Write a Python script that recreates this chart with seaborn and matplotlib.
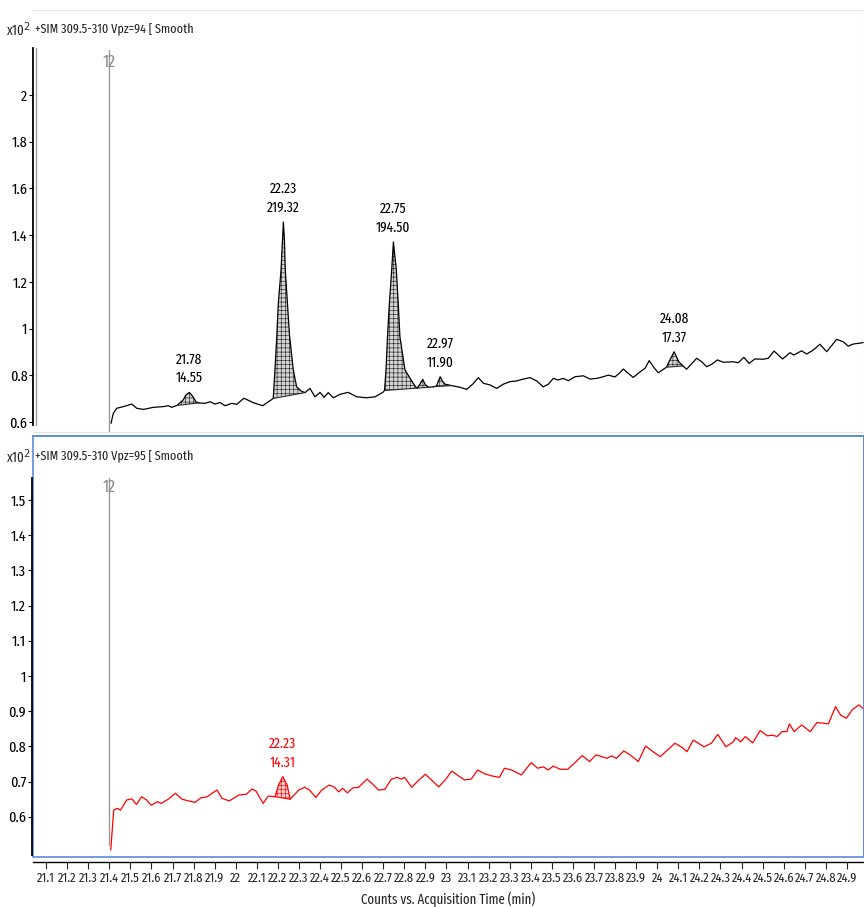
import numpy as np
import pandas as pd
import matplotlib
matplotlib.use("Agg")
import matplotlib.pyplot as plt
import seaborn as sns
from matplotlib import font_manager as fm
from matplotlib.patches import Rectangle

# ---------------- data ----------------
top_time = [21.408, 21.419, 21.435, 21.467, 21.507, 21.530, 21.562, 21.609, 21.656, 21.680,
            21.696, 21.721, 21.750, 21.764, 21.780, 21.795, 21.812, 21.826, 21.854, 21.878,
            21.902, 21.925, 21.949, 21.981, 22.005, 22.039, 22.083, 22.128, 22.155, 22.178,
            22.186, 22.195, 22.202, 22.215, 22.222, 22.226, 22.231, 22.235, 22.245, 22.255,
            22.273, 22.289, 22.310, 22.329, 22.352, 22.376, 22.400, 22.419, 22.439, 22.463,
            22.495, 22.534, 22.574, 22.621, 22.661, 22.698, 22.706, 22.713, 22.720, 22.729,
            22.740, 22.748, 22.762, 22.771, 22.779, 22.803, 22.842, 22.859, 22.872, 22.887,
            22.900, 22.916, 22.936, 22.952, 22.970, 22.980, 22.993, 23.025, 23.063, 23.096,
            23.124, 23.151, 23.175, 23.206, 23.238, 23.269, 23.301, 23.333, 23.364, 23.396,
            23.428, 23.459, 23.483, 23.507, 23.530, 23.554, 23.578, 23.610, 23.649, 23.681,
            23.713, 23.744, 23.768, 23.799, 23.820, 23.839, 23.862, 23.886, 23.926, 23.942,
            23.962, 23.981, 24.005, 24.044, 24.055, 24.080, 24.103, 24.123, 24.139, 24.187,
            24.211, 24.234, 24.258, 24.285, 24.313, 24.361, 24.384, 24.411, 24.436, 24.463,
            24.503, 24.527, 24.554, 24.595, 24.630, 24.648, 24.685, 24.709, 24.740, 24.772,
            24.804, 24.851, 24.882, 24.906, 24.930, 24.977]
top_signal = [0.594, 0.637, 0.659, 0.666, 0.677, 0.659, 0.654, 0.663, 0.666, 0.670,
              0.663, 0.671, 0.694, 0.716, 0.727, 0.711, 0.686, 0.682, 0.680, 0.687,
              0.677, 0.684, 0.670, 0.680, 0.676, 0.702, 0.683, 0.670, 0.687, 0.701,
              0.823, 0.973, 1.110, 1.251, 1.379, 1.456, 1.379, 1.251, 1.110, 0.973,
              0.823, 0.751, 0.733, 0.726, 0.744, 0.708, 0.727, 0.706, 0.726, 0.704,
              0.719, 0.727, 0.708, 0.704, 0.708, 0.727, 0.735, 0.823, 0.965, 1.108,
              1.251, 1.371, 1.251, 1.108, 0.965, 0.823, 0.766, 0.744, 0.759, 0.783,
              0.759, 0.749, 0.751, 0.754, 0.794, 0.776, 0.762, 0.756, 0.749, 0.740,
              0.762, 0.790, 0.766, 0.759, 0.744, 0.762, 0.773, 0.776, 0.784, 0.790,
              0.776, 0.751, 0.762, 0.787, 0.780, 0.787, 0.777, 0.794, 0.798, 0.784,
              0.787, 0.794, 0.801, 0.793, 0.809, 0.827, 0.809, 0.791, 0.820, 0.830,
              0.863, 0.837, 0.811, 0.835, 0.857, 0.901, 0.857, 0.840, 0.826, 0.873,
              0.858, 0.837, 0.847, 0.866, 0.856, 0.858, 0.854, 0.877, 0.851, 0.870,
              0.869, 0.873, 0.904, 0.870, 0.897, 0.887, 0.905, 0.891, 0.908, 0.933,
              0.901, 0.954, 0.944, 0.925, 0.934, 0.940]

bot_time = [21.407, 21.421, 21.437, 21.453, 21.483, 21.507, 21.529, 21.553, 21.576, 21.599,
            21.629, 21.645, 21.680, 21.714, 21.745, 21.777, 21.807, 21.835, 21.865, 21.883,
            21.911, 21.934, 21.969, 22.015, 22.050, 22.077, 22.096, 22.130, 22.154, 22.186,
            22.203, 22.223, 22.244, 22.258, 22.299, 22.327, 22.350, 22.380, 22.408, 22.443,
            22.466, 22.489, 22.507, 22.530, 22.558, 22.581, 22.623, 22.646, 22.678, 22.708,
            22.738, 22.766, 22.785, 22.801, 22.835, 22.870, 22.900, 22.928, 22.963, 22.997,
            23.025, 23.055, 23.085, 23.117, 23.148, 23.182, 23.217, 23.251, 23.275, 23.309,
            23.355, 23.402, 23.432, 23.460, 23.482, 23.506, 23.540, 23.575, 23.610, 23.644,
            23.679, 23.709, 23.737, 23.760, 23.783, 23.806, 23.841, 23.871, 23.910, 23.945,
            23.980, 24.014, 24.049, 24.084, 24.118, 24.141, 24.171, 24.195, 24.222, 24.257,
            24.287, 24.326, 24.361, 24.372, 24.396, 24.418, 24.453, 24.488, 24.523, 24.546,
            24.569, 24.592, 24.615, 24.627, 24.650, 24.685, 24.726, 24.758, 24.789, 24.812,
            24.846, 24.870, 24.897, 24.927, 24.957, 24.981]
bot_signal = [0.506, 0.619, 0.624, 0.619, 0.648, 0.651, 0.635, 0.657, 0.648, 0.633,
              0.643, 0.638, 0.650, 0.667, 0.650, 0.645, 0.641, 0.654, 0.657, 0.665,
              0.676, 0.653, 0.645, 0.662, 0.664, 0.679, 0.673, 0.638, 0.659, 0.657,
              0.690, 0.714, 0.690, 0.650, 0.676, 0.684, 0.676, 0.655, 0.676, 0.690,
              0.685, 0.671, 0.681, 0.668, 0.683, 0.683, 0.707, 0.695, 0.676, 0.678,
              0.707, 0.712, 0.707, 0.712, 0.684, 0.705, 0.721, 0.705, 0.685, 0.707,
              0.730, 0.717, 0.705, 0.707, 0.733, 0.722, 0.716, 0.712, 0.738, 0.733,
              0.719, 0.754, 0.738, 0.742, 0.733, 0.744, 0.735, 0.735, 0.754, 0.774,
              0.757, 0.776, 0.771, 0.766, 0.773, 0.766, 0.787, 0.776, 0.757, 0.801,
              0.785, 0.771, 0.790, 0.809, 0.797, 0.785, 0.818, 0.809, 0.799, 0.809,
              0.834, 0.799, 0.813, 0.825, 0.813, 0.828, 0.810, 0.845, 0.830, 0.832,
              0.828, 0.842, 0.842, 0.864, 0.842, 0.861, 0.842, 0.868, 0.866, 0.864,
              0.913, 0.889, 0.880, 0.905, 0.918, 0.905]

# integrated peaks: label time, area, integration start/end
top_peak_times = [21.78, 22.23, 22.75, 22.97, 24.08]
top_peak_apex = [21.780, 22.226, 22.748, 22.970, 24.080]
top_peak_areas = [14.55, 219.32, 194.50, 11.90, 17.37]
top_peak_start = [21.721, 22.178, 22.706, 22.936, 24.044]
top_peak_end = [21.826, 22.329, 22.916, 23.025, 24.123]

bot_peak_times = [22.23]
bot_peak_apex = [22.223]
bot_peak_areas = [14.31]
bot_peak_start = [22.186]
bot_peak_end = [22.258]

x_ticks = [21.1, 21.2, 21.3, 21.4, 21.5, 21.6, 21.7, 21.8, 21.9, 22.0, 22.1, 22.2, 22.3,
           22.4, 22.5, 22.6, 22.7, 22.8, 22.9, 23.0, 23.1, 23.2, 23.3, 23.4, 23.5, 23.6,
           23.7, 23.8, 23.9, 24.0, 24.1, 24.2, 24.3, 24.4, 24.5, 24.6, 24.7, 24.8, 24.9]
x_tick_labels = ["21.1", "21.2", "21.3", "21.4", "21.5", "21.6", "21.7", "21.8", "21.9", "22",
                 "22.1", "22.2", "22.3", "22.4", "22.5", "22.6", "22.7", "22.8", "22.9", "23",
                 "23.1", "23.2", "23.3", "23.4", "23.5", "23.6", "23.7", "23.8", "23.9", "24",
                 "24.1", "24.2", "24.3", "24.4", "24.5", "24.6", "24.7", "24.8", "24.9"]
top_y_ticks = [0.6, 0.8, 1.0, 1.2, 1.4, 1.6, 1.8, 2.0]
top_y_labels = ["0.6", "0.8", "1", "1.2", "1.4", "1.6", "1.8", "2"]
bot_y_ticks = [0.6, 0.7, 0.8, 0.9, 1.0, 1.1, 1.2, 1.3, 1.4, 1.5]
bot_y_labels = ["0.6", "0.7", "0.8", "0.9", "1", "1.1", "1.2", "1.3", "1.4", "1.5"]

marker_time = 21.4
top_title = "+SIM 309.5-310 Vpz=94 [ Smooth"
bot_title = "+SIM 309.5-310 Vpz=95 [ Smooth"
x_label = "Counts vs. Acquisition Time (min)"

# ---------------- style ----------------
sns.set_style("white")
installed = {f.name for f in fm.fontManager.ttflist}
narrow = "DejaVu Sans"
for cand in ["Arial Narrow", "Liberation Sans Narrow", "Fira Sans Extra Condensed",
             "Sofia Sans Extra Condensed", "Encode Sans Compressed", "Saira Extra Condensed",
             "Barlow Condensed", "Roboto Condensed", "Archivo Narrow"]:
    if cand in installed:
        narrow = cand
        break
plt.rcParams["font.family"] = [narrow, "DejaVu Sans"]
plt.rcParams["hatch.linewidth"] = 0.45

BLUE = "#5b8ed6"
FS = 10

fig = plt.figure(figsize=(8.64, 9.07), dpi=100)
H = 907.0
W = 864.0
ax1 = fig.add_axes([33 / W, 1 - 432 / H, 1 - 33 / W, (432 - 10) / H])
ax2 = fig.add_axes([33 / W, 1 - 857 / H, 1 - 33 / W, (857 - 436) / H], sharex=ax1)

top_df = pd.DataFrame({"time": top_time, "signal": top_signal})
bot_df = pd.DataFrame({"time": bot_time, "signal": bot_signal})
sns.lineplot(data=top_df, x="time", y="signal", ax=ax1, color="black", lw=0.9, sort=False)
sns.lineplot(data=bot_df, x="time", y="signal", ax=ax2, color="#ff0000", lw=0.9, sort=False)


def shade(ax, t, v, t0, t1, face, edge):
    t = np.asarray(t)
    v = np.asarray(v)
    m = (t >= t0 - 1e-9) & (t <= t1 + 1e-9)
    tt, vv = t[m], v[m]
    base = np.interp(tt, [tt[0], tt[-1]], [vv[0], vv[-1]])
    ax.fill_between(tt, base, vv, facecolor=face, edgecolor=edge, hatch="++++", linewidth=0)
    ax.plot([tt[0], tt[-1]], [vv[0], vv[-1]], color=edge, lw=0.8)


def label_peaks(ax, t, v, times, apex, areas, color):
    for pt, ap, ar in zip(times, apex, areas):
        pv = np.interp(ap, t, v)
        ax.annotate(f"{pt:.2f}\n{ar:.2f}", xy=(ap, pv), xytext=(0, 5), textcoords="offset points",
                    ha="center", va="bottom", fontsize=FS + 0.5, color=color, linespacing=1.4)


for s, e in zip(top_peak_start, top_peak_end):
    shade(ax1, top_time, top_signal, s, e, "#d4d4d4", "#2a2a2a")
for s, e in zip(bot_peak_start, bot_peak_end):
    shade(ax2, bot_time, bot_signal, s, e, "#ffd0d0", "#ff0000")
label_peaks(ax1, top_time, top_signal, top_peak_times, top_peak_apex, top_peak_areas, "black")
label_peaks(ax2, bot_time, bot_signal, bot_peak_times, bot_peak_apex, bot_peak_areas, "#ff0000")

xl = (21.038, 24.981)
ax1.set_xlim(*xl)
ax1.set_ylim(0.5574, 2.364)
ax2.set_ylim(0.4858, 1.682)

# marker lines "12"
ax1.axvline(marker_time, ymin=0, ymax=0.905, color="#9a9a9a", lw=1.0)
ax1.text(marker_time, 0.877, "12", transform=ax1.get_xaxis_transform(), ha="center", va="center",
         color="#8a8a8a", fontsize=12.5)
ax2.axvline(marker_time, ymin=0.028, ymax=0.90, color="#9a9a9a", lw=1.0)
ax2.text(marker_time, 0.879, "12", transform=ax2.get_xaxis_transform(), ha="center", va="center",
         color="#8a8a8a", fontsize=12.5)
ax1.plot([0.0036, 0.0036], [0.0166, 0.91], transform=ax1.transAxes, color="#9a9a9a", lw=1.0)

# frames
for sp in ["top", "right", "bottom"]:
    ax1.spines[sp].set_color("#e4e4e4")
    ax1.spines[sp].set_linewidth(0.8)
ax1.spines["left"].set_color("black")
ax1.spines["left"].set_linewidth(1.3)
ax1.spines["left"].set_bounds(0.587, 2.201)

for sp in ["top", "right"]:
    ax2.spines[sp].set_color(BLUE)
    ax2.spines[sp].set_linewidth(1.2)
ax2.add_patch(Rectangle((0, 0), 1, 1, transform=ax2.transAxes, fill=False, edgecolor=BLUE,
                        lw=1.2, clip_on=False, zorder=0.5))
ax2.spines["left"].set_color("black")
ax2.spines["left"].set_linewidth(1.3)
ax2.spines["left"].set_position(("outward", 1))
ax2.spines["left"].set_bounds(0.4915, 1.5625)
ax2.spines["bottom"].set_color("black")
ax2.spines["bottom"].set_linewidth(1.0)
ax2.spines["bottom"].set_position(("outward", 3.6))

# ticks
ax1.set_yticks(top_y_ticks)
ax1.set_yticklabels(top_y_labels)
ax2.set_yticks(bot_y_ticks)
ax2.set_yticklabels(bot_y_labels)
for ax in (ax1, ax2):
    ax.tick_params(axis="y", direction="out", length=3, width=0.8, labelsize=11, pad=1,
                   left=True, colors="black")
    ax.set_xlabel("")
    ax.set_ylabel("")
ax1.tick_params(axis="x", bottom=False, labelbottom=False)
ax2.set_xticks(x_ticks)
ax2.set_xticklabels(x_tick_labels)
ax2.tick_params(axis="x", direction="out", length=5, width=0.8, labelsize=9.8, pad=2, bottom=True)
ax2.set_xlim(*xl)

# header texts
for y_px, title in [(30, top_title), (457, bot_title)]:
    fig.text(6 / W, 1 - y_px / H, r"x10$^{2}$", fontsize=FS, ha="left", va="center")
    fig.text(35 / W, 1 - y_px / H, title, fontsize=9.5, ha="left", va="center")

fig.text(448 / W, 1 - 899 / H, x_label, fontsize=FS, ha="center", va="center")

fig.savefig("out.png", dpi=100)
